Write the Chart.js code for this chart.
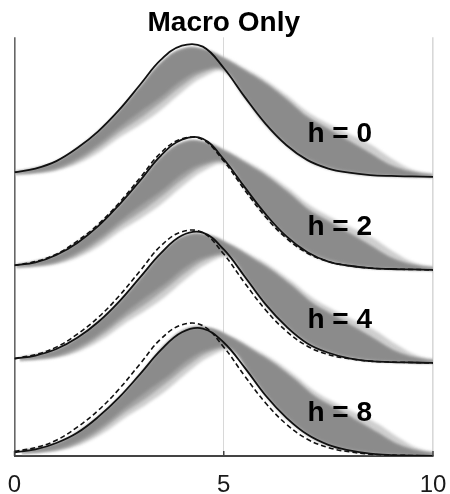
<!DOCTYPE html>
<html>
<head>
<meta charset="utf-8">
<script src="https://cdn.jsdelivr.net/npm/chart.js@4.4.1/dist/chart.umd.min.js"></script>
<style>
  html, body { margin: 0; padding: 0; background: #ffffff; }
  #wrap { width: 450px; height: 494px; position: relative; }
</style>
</head>
<body>
<div id="wrap"><canvas id="c"></canvas></div>
<script>
// ---- data ----
const xs = [0,0.5,1,1.5,2,2.5,3,3.5,4,4.5,5,5.5,6,6.5,7,7.5,8,8.5,9,9.5,10];
const xTicks = [0, 5, 10];
const hLabels = ['h = 0', 'h = 2', 'h = 4', 'h = 8'];
const ridgeBase = [3, 2, 1, 0];
const bandShift = [0, 0.04, 0.12, 0.17];

// solid lines (model density for each horizon)
const solidH0 = [0.05,0.09,0.17,0.31,0.49,0.72,0.99,1.26,1.41,1.40,1.17,0.86,0.57,0.34,0.18,0.09,0.045,0.02,0.01,0.005,0];
const solidH2 = [0.05,0.08,0.16,0.29,0.47,0.70,0.96,1.23,1.40,1.41,1.19,0.89,0.60,0.36,0.19,0.09,0.045,0.02,0.01,0.005,0];
const solidH4 = [0.045,0.08,0.15,0.27,0.44,0.66,0.92,1.18,1.37,1.40,1.22,0.93,0.63,0.39,0.21,0.11,0.05,0.02,0.01,0.005,0];
const solidH8 = [0.04,0.07,0.14,0.25,0.42,0.63,0.88,1.14,1.33,1.37,1.22,0.95,0.65,0.41,0.23,0.12,0.06,0.025,0.01,0.005,0];
// dashed reference line (drawn for h > 0)
const dashedRef = [0.05,0.09,0.17,0.31,0.49,0.72,0.99,1.26,1.41,1.40,1.17,0.86,0.57,0.34,0.18,0.09,0.045,0.02,0.01,0.005,0];

// grey fan envelopes
const bandHaloUp = [0.05,0.09,0.16,0.30,0.48,0.70,0.96,1.22,1.37,1.37,1.29,1.17,1.04,0.88,0.70,0.57,0.46,0.35,0.20,0.08,0.03];
const bandCoreUp = [0.05,0.09,0.16,0.30,0.48,0.70,0.96,1.22,1.37,1.37,1.27,1.14,1.00,0.83,0.64,0.51,0.38,0.25,0.12,0.05,0.02];
const bandMidLo  = [0.03,0.045,0.08,0.17,0.31,0.48,0.63,0.80,0.98,1.12,1.15,0.86,0.57,0.34,0.18,0.09,0.045,0.02,0.01,0.005,0];
const bandCoreLo = [0.035,0.055,0.10,0.20,0.35,0.53,0.70,0.86,1.04,1.15,1.16,0.87,0.58,0.36,0.20,0.11,0.06,0.03,0.015,0.005,0];
const bandHaloLo = [0.025,0.04,0.07,0.14,0.26,0.42,0.56,0.72,0.91,1.07,1.13,0.86,0.56,0.34,0.18,0.09,0.045,0.02,0.01,0.005,0];

const solids = [solidH0, solidH2, solidH4, solidH8];

// ---- build datasets ----
function pts(vals, base, shift) {
  return xs.map((x, i) => ({ x: x + (shift || 0), y: base + vals[i] }));
}
const hidden = { borderWidth: 0, borderColor: 'rgba(0,0,0,0)', pointRadius: 0, fill: false, isBand: true };
const datasets = [];
for (let k = 0; k < 4; k++) {
  const b = ridgeBase[k], s = bandShift[k];
  datasets.push(Object.assign({ data: pts(bandHaloLo, b, s), order: 10 }, hidden));
  datasets.push({ data: pts(bandHaloUp, b, s), order: 9, borderWidth: 0, pointRadius: 0,
                  backgroundColor: '#cfcfcf', fill: '-1', isBand: true });
  datasets.push(Object.assign({ data: pts(bandMidLo, b, s), order: 8 }, hidden));
  datasets.push({ data: pts(bandCoreUp, b, s), order: 7, borderWidth: 0, pointRadius: 0,
                  backgroundColor: '#a4a4a4', fill: '-1', isBand: true });
  datasets.push(Object.assign({ data: pts(bandCoreLo, b, s), order: 6 }, hidden));
  datasets.push({ data: pts(bandCoreUp, b, s), order: 5, borderWidth: 0, pointRadius: 0,
                  backgroundColor: '#8b8b8b', fill: '-1', isBand: true });
  if (k > 0) {
    datasets.push({ data: pts(dashedRef, b), order: 2, borderColor: '#111', borderWidth: 1.6,
                    borderDash: [5, 3], pointRadius: 0, fill: false });
  }
  datasets.push({ data: pts(solids[k], b), order: 1, borderColor: '#111', borderWidth: 1.8,
                  pointRadius: 0, fill: false });
}

// soft edges for the grey fan
const softPlugin = {
  id: 'soft',
  beforeDatasetsDraw(chart) { chart.ctx.filter = 'blur(1.4px)'; },
  beforeDatasetDraw(chart, args) {
    const ds = chart.data.datasets[args.index];
    if (!ds.isBand) chart.ctx.filter = 'none';
  },
  afterDatasetsDraw(chart) { chart.ctx.filter = 'none'; }
};

const labelPlugin = {
  id: 'ridgeLabels',
  afterDatasetsDraw(chart) {
    const { ctx, scales } = chart;
    const sx = scales.x, sy = scales.y;
    ctx.save();
    ctx.filter = 'none';
    ctx.strokeStyle = '#444';
    ctx.lineWidth = 1.5;
    xTicks.forEach(v => {
      const px = sx.getPixelForValue(v);
      ctx.beginPath();
      ctx.moveTo(px, chart.chartArea.bottom);
      ctx.lineTo(px, chart.chartArea.bottom - 5);
      ctx.stroke();
    });
    ctx.fillStyle = '#000';
    ctx.font = 'bold 28px "Liberation Sans", Arial, sans-serif';
    ctx.textAlign = 'left';
    ctx.textBaseline = 'alphabetic';
    for (let k = 0; k < 4; k++) {
      ctx.fillText(hLabels[k], sx.getPixelForValue(7.0), sy.getPixelForValue(ridgeBase[k] + 0.375));
    }
    ctx.restore();
  }
};

new Chart(document.getElementById('c'), {
  type: 'line',
  data: { datasets },
  options: {
    responsive: true,
    maintainAspectRatio: false,
    animation: false,
    events: [],
    layout: { padding: { left: 14.5, right: 17, top: 0, bottom: 0 } },
    elements: { line: { tension: 0.4 } },
    plugins: {
      legend: { display: false },
      tooltip: { enabled: false },
      title: {
        display: true,
        text: 'Macro Only',
        color: '#000',
        font: { family: '"Liberation Sans", Arial, sans-serif', size: 28, weight: 'bold', lineHeight: 1.03 },
        padding: { top: 8.5, bottom: 0 }
      }
    },
    scales: {
      x: {
        type: 'linear',
        min: 0, max: 10,
        afterBuildTicks: (scale) => { scale.ticks = xTicks.map(v => ({ value: v })); },
        afterFit: (scale) => { scale.height = 38; scale.paddingLeft = 0; scale.paddingRight = 0; },
        ticks: {
          color: '#1a1a1a',
          padding: 16.5,
          maxRotation: 0,
          font: { family: '"Liberation Sans", Arial, sans-serif', size: 24, lineHeight: 1.05 }
        },
        grid: {
          drawTicks: false,
          color: (c) => c.tick && c.tick.value === 0 ? '#666' : '#d8d8d8',
          lineWidth: (c) => c.tick && c.tick.value === 5 ? 1 : 1.6
        },
        border: { display: true, color: '#444', width: 2 }
      },
      y: {
        type: 'linear',
        min: 0, max: 4.5,
        display: false
      }
    }
  },
  plugins: [softPlugin, labelPlugin]
});
</script>
</body>
</html>
